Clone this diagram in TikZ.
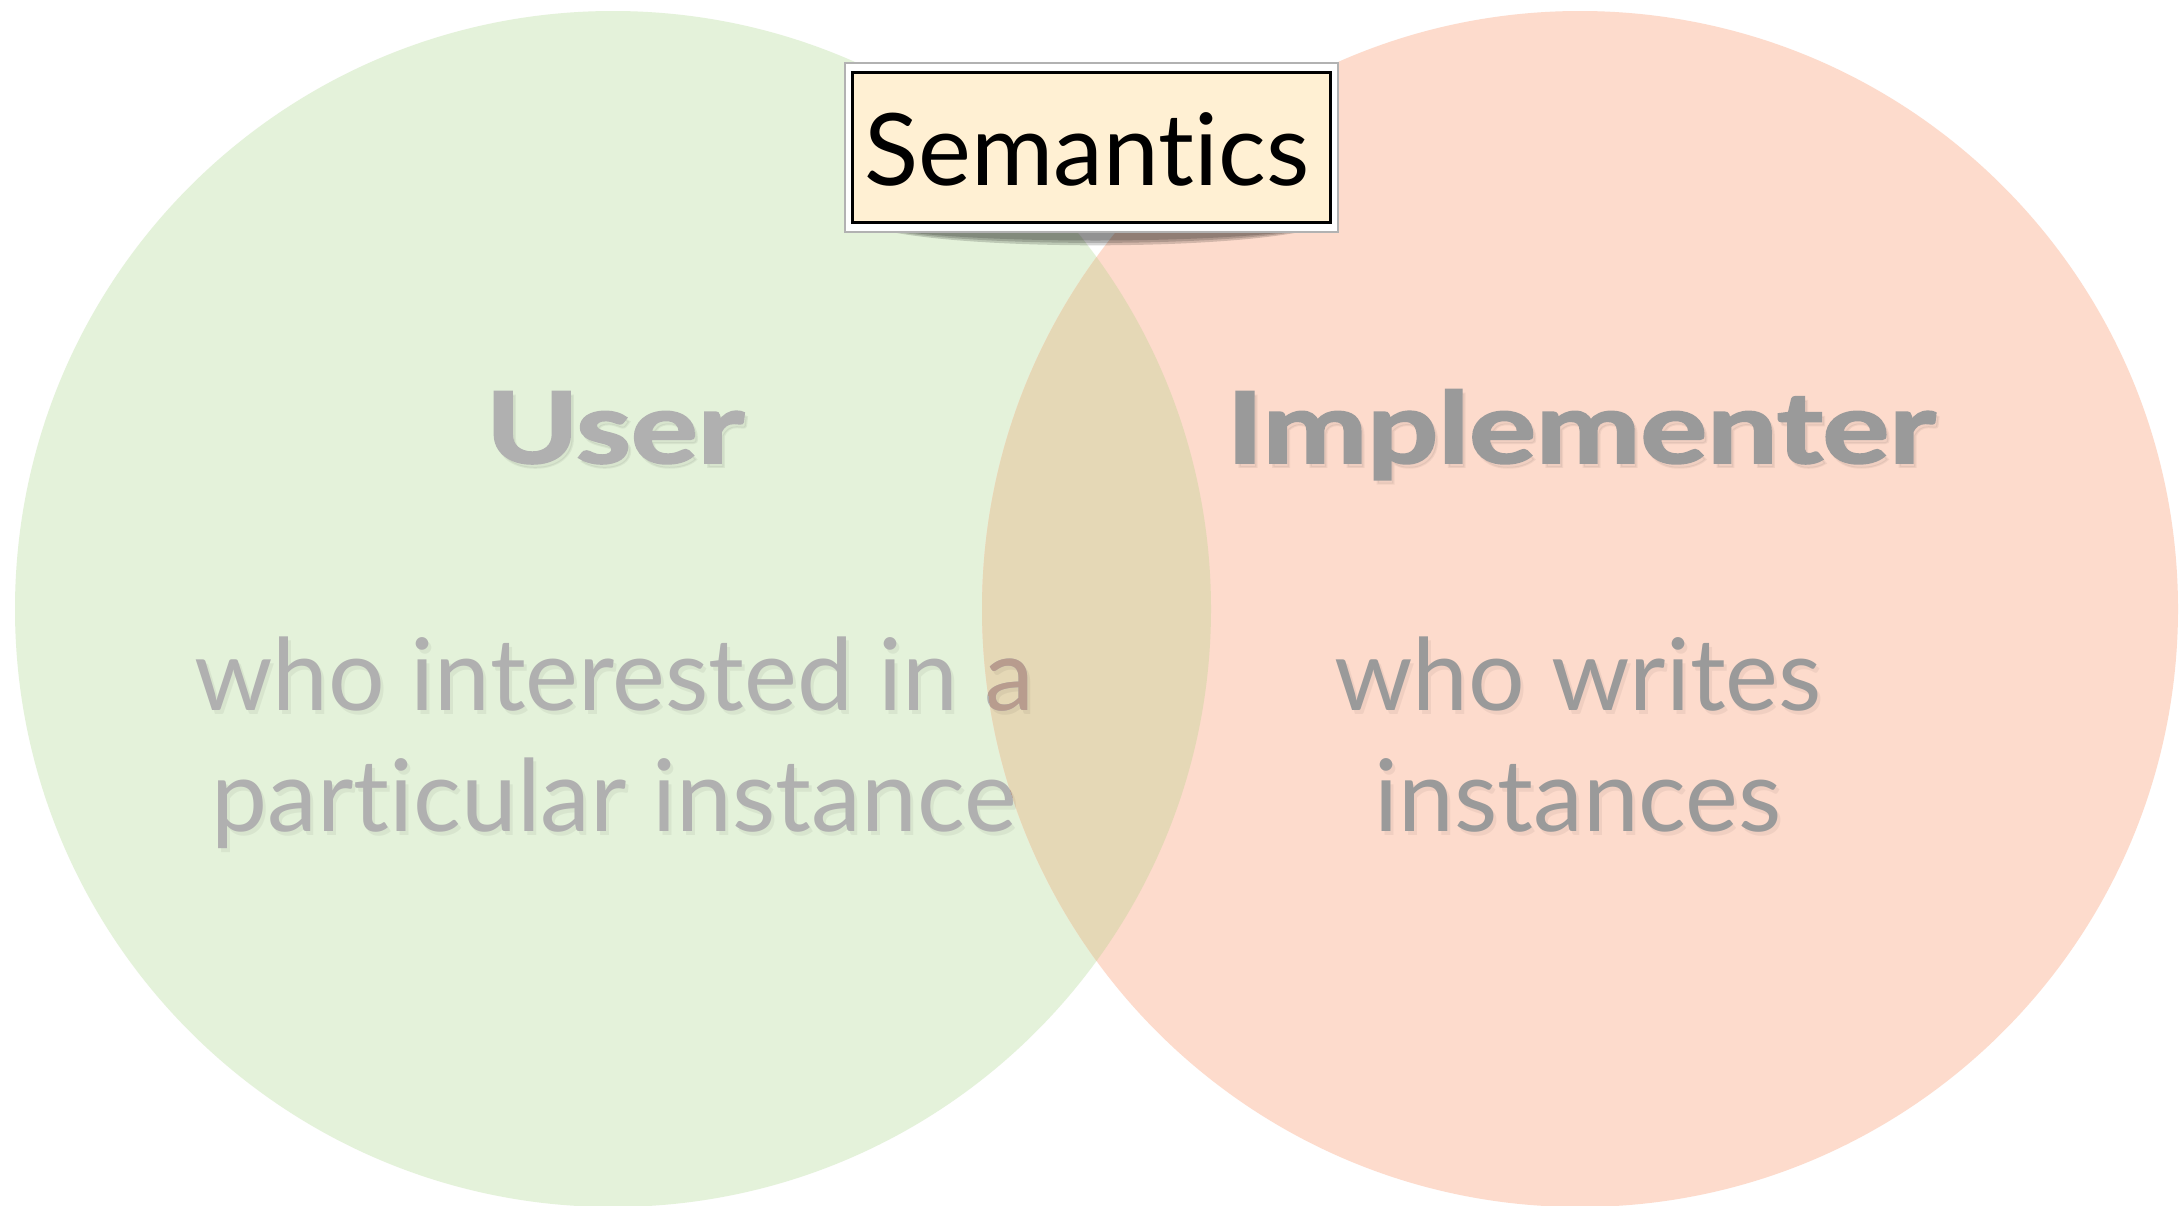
\documentclass[tikz,border=0pt]{standalone}
\usepackage{fontspec}
\setmainfont{Lato}[RawFeature={-liga;-dlig;-calt}, BoldFeatures={FakeBold=2}]
\definecolor{usergreen}{HTML}{E4F2DA}
\definecolor{implred}{HTML}{FDDBCC}
\definecolor{overlap}{HTML}{E5D8B6}
\definecolor{lefttext}{HTML}{B0B0B0}
\definecolor{overtext}{HTML}{B89C8E}
\definecolor{righttext}{HTML}{9A9A9A}
\definecolor{cream}{HTML}{FFF0D3}
\newcommand{\wide}[1]{\scalebox{1.2}[0.95]{#1}}
\tikzset{
  lbl/.style={inner sep=0pt, anchor=base, font=\fontsize{100}{110}\selectfont},
  head/.style={inner sep=0pt, anchor=base, font=\fontsize{104}{110}\selectfont\bfseries},
  tshadow/.style={text=black, opacity=0.05},
}
\begin{document}
\begin{tikzpicture}[x=1pt, y=-1pt]
\useasboundingbox (0,0) rectangle (2182,1205);
\fill[white] (0,0) rectangle (2182,1205);

% the two sets and their overlap
\coordinate (cu) at (613,609);
\coordinate (ci) at (1580,609);
\fill[usergreen] (cu) circle[radius=598pt];
\fill[implred] (ci) circle[radius=598pt];
\begin{scope}
  \clip (cu) circle[radius=598pt];
  \fill[overlap] (ci) circle[radius=598pt];
\end{scope}

% user side labels
\node[head, tshadow] (user-sh) at (618,467) {\wide{User}};
\node[lbl, tshadow] (uline1-sh) at (617,714) {who interested in a};
\node[lbl, tshadow] (uline2-sh) at (617,835) {particular instance};
\node[head, text=lefttext] (user) at (615,463) {\wide{User}};
\node[lbl, text=lefttext] (uline1) at (614,710) {who interested in a};
\node[lbl, text=lefttext] (uline2) at (614,831) {particular instance};
\begin{scope}
  \clip (ci) circle[radius=598pt];
  \node[lbl, text=overtext] (uline1-tint) at (614,710) {who interested in a};
  \node[lbl, text=overtext] (uline2-tint) at (614,831) {particular instance};
\end{scope}

% implementer side labels
\node[head, tshadow] (impl-sh) at (1584,467) {\wide{Implementer}};
\node[lbl, tshadow] (iline1-sh) at (1581,714) {who writes};
\node[lbl, tshadow] (iline2-sh) at (1581,835) {instances};
\node[head, text=righttext] (impl) at (1581,463) {\wide{Implementer}};
\node[lbl, text=righttext] (iline1) at (1578,710) {who writes};
\node[lbl, text=righttext] (iline2) at (1578,831) {instances};

% title plate with its shadow
\foreach \d in {0,8,16}{
  \fill[black, opacity=0.17] (862,224) .. controls (930,{246+\d*0.4}) and (1260,{246+\d*0.4}) .. (1330,224) -- cycle;
}
\fill[white, draw=black!30, line width=1.5pt] (845,63) rectangle (1338,232);
\fill[cream, draw=black, line width=3pt] (852,72) rectangle (1330,222);
\node[inner sep=0pt, anchor=base, font=\fontsize{100}{110}\selectfont] (sem) at (1087,185) {Semantics};
\end{tikzpicture}
\end{document}
